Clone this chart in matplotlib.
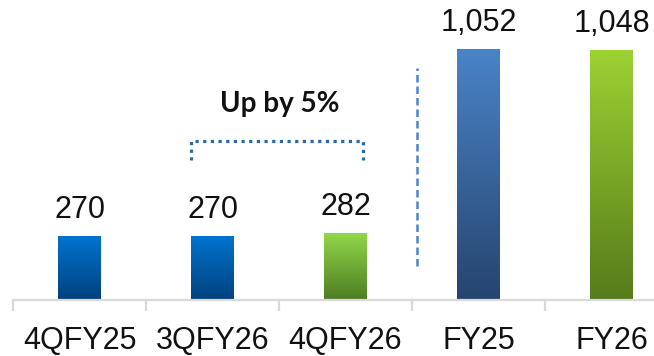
import numpy as np
import matplotlib
matplotlib.use("Agg")
import matplotlib.pyplot as plt
from matplotlib.colors import LinearSegmentedColormap

plt.rcParams['font.family'] = ['Liberation Sans', 'DejaVu Sans']

# Data
categories = ["4QFY25", "3QFY26", "4QFY26", "FY25", "FY26"]
values = [270, 270, 282, 1052, 1048]
value_labels = ["270", "270", "282", "1,052", "1,048"]
growth_note = "Up by 5%"

# Gradient colours per bar: (top, bottom)
gradients = [
    ("#0074D0", "#00417E"),
    ("#0074D0", "#00417E"),
    ("#93D84B", "#4E7C22"),
    ("#4A84C8", "#26446E"),
    ("#9DD233", "#567B1B"),
]

W, H = 654, 356
fig = plt.figure(figsize=(W / 100, H / 100), dpi=100)
ax = fig.add_axes([13 / W, 56 / H, (W - 13) / W, 300 / H])

x = np.arange(len(categories))
bars = ax.bar(x, values, width=0.323, color="none", edgecolor="none", zorder=2)

# Vertical gradient fill clipped to each bar
grad = np.linspace(1, 0, 256).reshape(-1, 1)
for rect, (top, bottom) in zip(bars, gradients):
    cmap = LinearSegmentedColormap.from_list("g", [bottom, top])
    x0, y0 = rect.get_x(), rect.get_y()
    w, h = rect.get_width(), rect.get_height()
    im = ax.imshow(grad, cmap=cmap, vmin=0, vmax=1, aspect="auto",
                   extent=(x0, x0 + w, y0, y0 + h), zorder=2, interpolation="bilinear")
    im.set_clip_path(rect)

# Value labels above bars
for xi, v, lab in zip(x, values, value_labels):
    ax.annotate(lab, (xi, v), xytext=(0, 13), textcoords="offset points",
                ha="center", va="baseline", fontsize=22, color="#111111")

# Axis styling
for s in ["top", "right", "left"]:
    ax.spines[s].set_visible(False)
ax.spines["bottom"].set_color("#D9D9D9")
ax.spines["bottom"].set_linewidth(1.6)
ax.set_yticks([])
ax.set_xticks(np.arange(-0.5, len(categories), 1.0))
ax.set_xticklabels([])
ax.tick_params(axis="x", which="major", length=8, width=1.6, color="#D9D9D9", direction="out")
ax.set_xticks(x, minor=True)
ax.set_xticklabels(categories, minor=True, fontsize=22, color="#111111")
ax.tick_params(axis="x", which="minor", length=0, pad=19)

# Growth bracket between 3QFY26 and 4QFY26
bracket_color = "#1F6CB4"
ax.plot([0.838, 0.838, 2.13, 2.13], [587, 666, 666, 587], color=bracket_color,
        linewidth=2.3, linestyle=(0, (1.0, 1.4)), solid_capstyle="butt",
        dash_capstyle="butt", zorder=3)
ax.text(1.507, 788, growth_note, ha="center", va="baseline", fontsize=20,
        fontweight="bold", family=["Lato", "DejaVu Sans"], color="#111111")

# Separator between quarterly and full-year figures
ax.plot([2.54, 2.54], [142, 972], color="#4A86C8", linewidth=1.8,
        linestyle=(0, (3.0, 1.6)), zorder=3)

ax.set_xlim(-0.5, -0.5 + (W - 13) / 133)
ax.set_ylim(0, 1257)

fig.savefig("out.png", dpi=100)
